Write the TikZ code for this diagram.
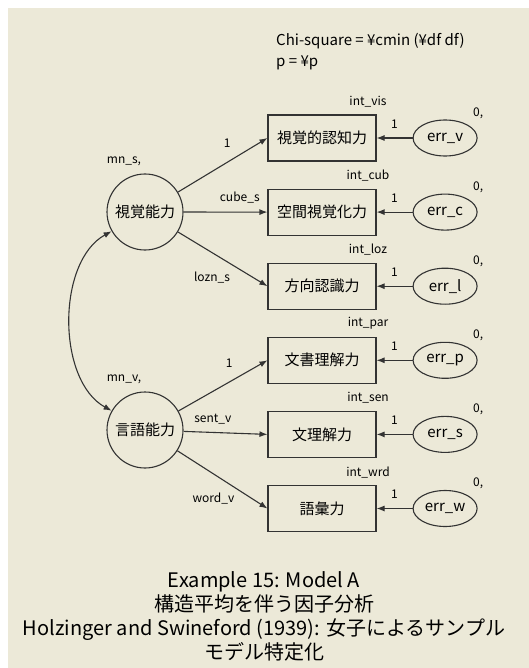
\documentclass[tikz,border=0pt]{standalone}
\usepackage{fontspec}
\setmainfont{Noto Sans CJK JP}
\usetikzlibrary{arrows.meta,positioning,shapes.geometric}
\definecolor{panel}{HTML}{ECE9D8}
\definecolor{ink}{HTML}{333333}
\tikzset{
 obsbox/.style={draw=ink,line width=1.1pt,minimum width=108pt,minimum height=46pt,
             inner sep=0pt,font=\fontsize{15}{18}\selectfont},
 latent/.style={draw=ink,circle,line width=1.1pt,minimum size=76pt,inner sep=0pt,
             font=\fontsize{15}{18}\selectfont},
 errnode/.style={draw=ink,ellipse,line width=1.1pt,minimum width=64pt,minimum height=36pt,
             inner sep=0pt,font=\fontsize{15}{18}\selectfont},
 lbl/.style={font=\fontsize{12}{14}\selectfont,inner sep=1pt},
 arrow/.style={-{Latex[length=8pt,width=6pt]},line width=1.1pt,draw=ink},
 covar/.style={{Latex[length=8pt,width=6pt]}-{Latex[length=8pt,width=6pt]},line width=1.1pt,draw=ink}
}
\begin{document}
\begin{tikzpicture}[x=1pt,y=-1pt,node distance=27pt and 36pt]
\fill[white] (0,0) rectangle (529,668);
\fill[panel] (8,8) rectangle (529,668);
\useasboundingbox (0,0) rectangle (529,668);
% observed variables
\node[obsbox] (vis) at (322,138) {視覚的認知力};
\node[obsbox,below=of vis] (cub) {空間視覚化力};
\node[obsbox,below=of cub] (loz) {方向認識力};
\node[obsbox,below=of loz] (par) {文書理解力};
\node[obsbox,below=of par] (sen) {文理解力};
\node[obsbox,below=of sen] (wrd) {語彙力};
% errors
\node[errnode,right=of vis] (ev) {err\_v};
\node[errnode,right=of cub] (ec) {err\_c};
\node[errnode,right=of loz] (el) {err\_l};
\node[errnode,right=of par] (ep) {err\_p};
\node[errnode,right=of sen] (es) {err\_s};
\node[errnode,right=of wrd] (ew) {err\_w};
% factors
\node[latent] (vs) at (145,212) {視覚能力};
\node[latent] (vl) at (145,430) {言語能力};
\node[lbl,anchor=south] (mns) at ([xshift=-21pt,yshift=6pt]vs.north) {mn\_s,};
\node[lbl,anchor=south] (mnv) at ([xshift=-21pt,yshift=6pt]vl.north) {mn\_v,};
% intercepts and error means
\foreach \v/\t in {vis/int\_vis,cub/int\_cub,loz/int\_loz,par/int\_par,sen/int\_sen,wrd/int\_wrd}
  \node[lbl,anchor=south] at ([xshift=46pt,yshift=6pt]\v.north) {\t};
\foreach \e in {ev,ec,el,ep,es,ew}
  \node[lbl] at ([xshift=33pt,yshift=25pt]\e.center) {0,};
% loadings
\draw[arrow] (vs) -- node[lbl,pos=0.55,above=13pt]{1} (vis.west);
\draw[arrow] (vs) -- node[lbl,pos=0.67,above=7pt]{cube\_s} (cub.west);
\draw[arrow] (vs) -- node[lbl,pos=0.38,below=18pt]{lozn\_s} (loz.west);
\draw[arrow] (vl) -- node[lbl,pos=0.57,above=13pt]{1} (par.west);
\draw[arrow] (vl) -- node[lbl,pos=0.35,above=7pt]{sent\_v} (sen.west);
\draw[arrow] (vl) -- node[lbl,pos=0.40,below=18pt]{word\_v} (wrd.west);
% error paths
\draw[arrow] (ev) -- node[lbl,above=8pt]{1} (vis);
\draw[arrow] (ec) -- node[lbl,above=8pt]{1} (cub);
\draw[arrow] (el) -- node[lbl,above=8pt]{1} (loz);
\draw[arrow] (ep) -- node[lbl,above=8pt]{1} (par);
\draw[arrow] (es) -- node[lbl,above=8pt]{1} (sen);
\draw[arrow] (ew) -- node[lbl,above=8pt]{1} (wrd);
% covariance
\draw[covar] (vs.210) .. controls +(-55,30) and +(-55,-30) .. (vl.150);
% texts
\node[anchor=north west,align=left,inner sep=0pt,font=\fontsize{15}{21}\selectfont] (fit)
  at (276,33) {Chi-square = ¥cmin (¥df df)\\p = ¥p};
\node[align=center,inner sep=0pt,font=\fontsize{20}{24}\selectfont] (title) at (264,616)
  {Example 15: Model A\\構造平均を伴う因子分析\\Holzinger and Swineford (1939): 女子によるサンプル\\モデル特定化};
\end{tikzpicture}
\end{document}
